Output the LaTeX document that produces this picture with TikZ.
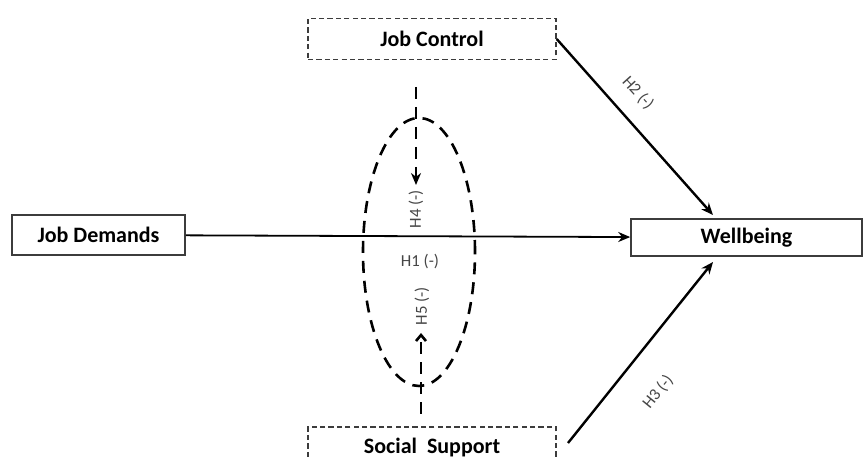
\documentclass[tikz,border=0pt]{standalone}
\usepackage{fontspec}
\setmainfont{Carlito}
\usetikzlibrary{arrows.meta,shapes.geometric}
\definecolor{boxgray}{RGB}{60,60,60}
\definecolor{labelgray}{RGB}{70,70,70}

\begin{document}
\begin{tikzpicture}[x=0.5pt,y=-0.5pt,
  varbox/.style={draw=boxgray,line width=0.8pt,minimum width=#1,inner sep=0pt,font=\fontsize{11}{13}\selectfont\bfseries},
  modbox/.style={varbox=#1,dash pattern=on 2.6pt off 1.6pt,line width=0.7pt},
  hyp/.style={font=\fontsize{8.4}{10}\selectfont,text=labelgray,inner sep=1pt},
  path/.style={line width=1.2pt,-{Stealth[length=6pt,width=5pt]}},
  dpath/.style={line width=1.3pt,dash pattern=on 6pt off 4pt}]
\useasboundingbox (0,0) rectangle (867,459);

% Variables
\node[varbox=86.5pt,minimum height=20pt] (jd) at (98.5,235) {Job Demands};
\node[varbox=115.5pt,minimum height=18.5pt] (wb) at (746.5,237.5) {Wellbeing};
\node[modbox=124pt,minimum height=20.5pt] (jc) at (432,39) {Job Control};
\node[modbox=124pt,minimum height=21pt] (ss) at (432,448) {Social\ \ Support};

% Moderation ellipse
\node[draw,ellipse,dpath,minimum width=56pt,minimum height=134pt,inner sep=0pt] (mod) at (419,252) {};

% Main effects
\coordinate (wbtop) at (713,215);
\coordinate (wbbot) at (713,262);
\coordinate (ssout) at (568,443);
\draw[path,line width=0.9pt] (jd) -- (wb);
\draw[path] (jc.east) -- (wbtop);
\draw[path] (ssout) -- (wbbot);
\node[hyp] (h1) at (420,262) {H1 (-)};
\node[hyp,rotate=-48] (h2) at (638,93) {H2 (-)};
\node[hyp,rotate=51] (h3) at (658,392) {H3 (-)};

% Moderating effects
\coordinate (jcin) at (416,87);
\coordinate (jctip) at (416,185);
\coordinate (ssin) at (421,414);
\coordinate (sstip) at (421,333);
\draw[dpath,-{Stealth[length=6pt,width=5pt]}] (jcin) -- (jctip);
\draw[dpath,-{Straight Barb[length=3pt,width=5pt]}] (ssin) -- (sstip);
\node[hyp,rotate=90] (h4) at (416,209) {H4 (-)};
\node[hyp,rotate=90] (h5) at (422,306) {H5 (-)};
\end{tikzpicture}
\end{document}
